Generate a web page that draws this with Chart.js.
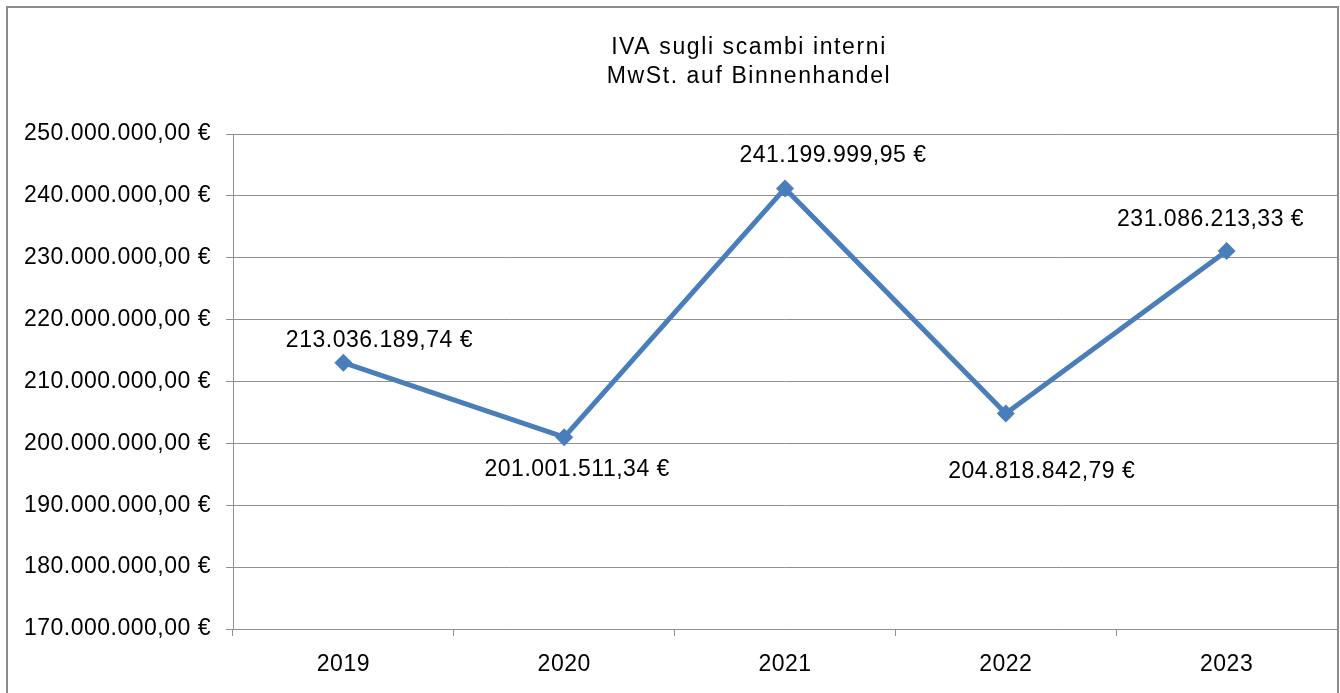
<!DOCTYPE html>
<html>
<head>
<meta charset="utf-8">
<title>IVA sugli scambi interni</title>
<script src="https://cdn.jsdelivr.net/npm/chart.js@4/dist/chart.umd.min.js"></script>
<style>
    html, body { margin: 0; padding: 0; background: #ffffff; overflow: hidden; }
    #chart { position: absolute; left: 0; top: 0; }
    #frame {
        position: absolute; left: 6px; top: 6px; width: 1329px; height: 800px;
        border: 2px solid #8c8c8c; pointer-events: none;
    }
</style>
</head>
<body>
<canvas id="chart" width="1340" height="693"></canvas>
<div id="frame"></div>
<script>
// data
const years = ['2019', '2020', '2021', '2022', '2023'];
const vatValues = [213036189.74, 201001511.34, 241199999.95, 204818842.79, 231086213.33];
const titleLines = ['IVA sugli scambi interni', 'MwSt. auf Binnenhandel'];
const axisMin = 170000000;
const axisMax = 250000000;
const axisStep = 10000000;

// label nudges (dx, dy from the point), the labels were moved by hand in the original
const labelOffsets = [[36, -22], [13, 32], [48, -33], [36, 58], [-16, -31]];

const FONT = 'Arial, "Liberation Sans", sans-serif';
const FONT_SIZE = 23;
const LINE_BLUE = '#4a7ebb';
const GRID_GREY = '#909090';

// 213036189.74 -> "213.036.189,74 €"
function formatEuro(value) {
    const parts = Number(value).toFixed(2).split('.');
    return parts[0].replace(/\B(?=(\d{3})+(?!\d))/g, '.') + ',' + parts[1] + ' €';
}

// the original text is set a little wider than plain Arial
const textSpacing = {
    id: 'textSpacing',
    beforeUpdate(chart) { chart.ctx.letterSpacing = '0.5px'; },
    beforeDraw(chart) { chart.ctx.letterSpacing = '0.5px'; },
};

// two line title, centred a bit left of the plot like in the original
const chartTitle = {
    id: 'chartTitle',
    afterDraw(chart) {
        const ctx = chart.ctx;
        ctx.save();
        ctx.letterSpacing = '1.6px';
        ctx.font = FONT_SIZE + 'px ' + FONT;
        ctx.fillStyle = '#000000';
        ctx.textAlign = 'center';
        ctx.textBaseline = 'middle';
        titleLines.forEach((line, i) => ctx.fillText(line, 749, 48 + i * 29));
        ctx.restore();
    }
};

const valueLabels = {
    id: 'valueLabels',
    afterDatasetsDraw(chart) {
        const ctx = chart.ctx;
        const meta = chart.getDatasetMeta(0);
        ctx.save();
        ctx.font = FONT_SIZE + 'px ' + FONT;
        ctx.fillStyle = '#000000';
        ctx.textAlign = 'center';
        ctx.textBaseline = 'middle';
        meta.data.forEach((point, i) => {
            const off = labelOffsets[i] || [0, -25];
            ctx.fillText(formatEuro(chart.data.datasets[0].data[i]), point.x + off[0], point.y + off[1]);
        });
        ctx.restore();
    }
};

new Chart(document.getElementById('chart'), {
    type: 'line',
    data: {
        labels: years,
        datasets: [{
            data: vatValues,
            borderColor: LINE_BLUE,
            backgroundColor: LINE_BLUE,
            borderWidth: 5,
            tension: 0,
            pointStyle: 'rectRot',
            pointRadius: 9,
            pointHoverRadius: 9,
            pointBorderWidth: 0,
            pointBackgroundColor: LINE_BLUE,
        }],
    },
    options: {
        responsive: false,
        animation: false,
        layout: { autoPadding: false, padding: { left: 0, right: 3, top: 134, bottom: 0 } },
        plugins: {
            legend: { display: false },
            tooltip: { enabled: false },
            title: { display: false },
        },
        scales: {
            x: {
                offset: true,
                grid: { offset: true, drawOnChartArea: false, tickLength: 7, color: GRID_GREY },
                border: { color: GRID_GREY },
                ticks: { color: '#000000', padding: 15, font: { family: FONT, size: FONT_SIZE } },
                afterFit(scale) {
                    scale.height = 64;
                    scale.paddingLeft = 0;
                    scale.paddingRight = 0;
                },
            },
            y: {
                min: axisMin,
                max: axisMax,
                grid: { color: GRID_GREY, tickLength: 7 },
                border: { color: GRID_GREY },
                ticks: {
                    stepSize: axisStep,
                    color: '#000000',
                    padding: 15,
                    font: { family: FONT, size: FONT_SIZE },
                    callback: (value) => formatEuro(value),
                },
                afterFit(scale) { scale.width = 233; },
            },
        },
    },
    plugins: [textSpacing, chartTitle, valueLabels],
});
</script>
</body>
</html>
